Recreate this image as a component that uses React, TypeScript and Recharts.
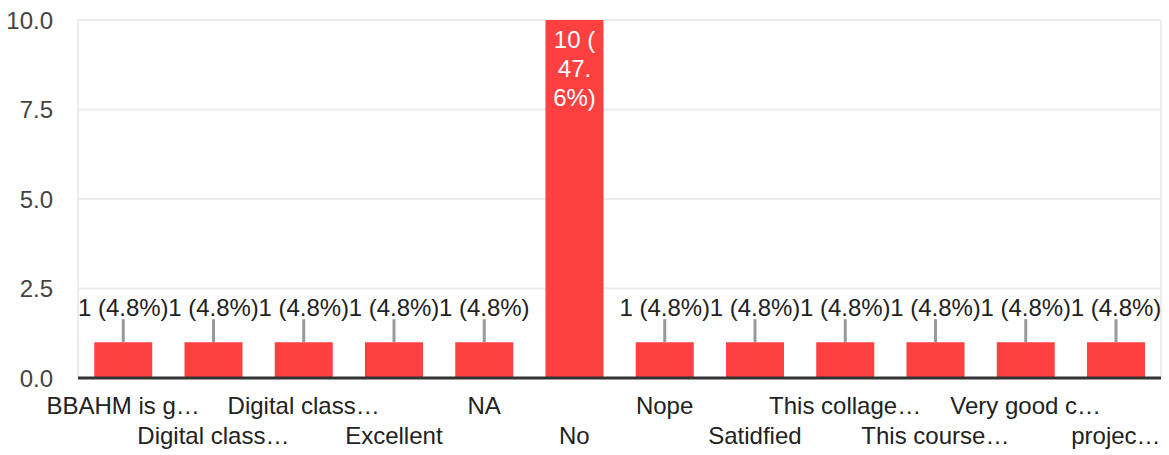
import { BarChart, Bar, XAxis, YAxis, CartesianGrid, LabelList } from 'recharts'

const categories = [
  'BBAHM is g…',
  'Digital class…',
  'Digital class…',
  'Excellent',
  'NA',
  'No',
  'Nope',
  'Satidfied',
  'This collage…',
  'This course…',
  'Very good c…',
  'projec…',
]
const counts = [1, 1, 1, 1, 1, 10, 1, 1, 1, 1, 1, 1]
const yTicks = [0, 2.5, 5, 7.5, 10]

const total = counts.reduce((a, b) => a + b, 0)
const data = categories.map((name, i) => ({ name, count: counts[i] }))

const FONT = '"Liberation Sans", Arial, sans-serif'
const RED = '#FF4040'
const FS = 24

const pctText = (v: number) => `${v} (${((v / total) * 100).toFixed(1)}%)`

function XTick(props: any) {
  const { x, y, payload, index } = props
  const dy = index % 2 === 0 ? 36 : 66
  return (
    <text x={x} y={y + dy} textAnchor="middle" fill="#222" fontSize={FS} fontFamily={FONT}>
      {payload.value}
    </text>
  )
}

function BarLabel(props: any) {
  const { x, y, width, height, value } = props
  const cx = x + width / 2
  if (height > 120) {
    // tall bar: label wrapped inside in white
    const txt = pctText(value)
    const lines = [txt.slice(0, 4), txt.slice(4, 7), txt.slice(7)]
    return (
      <g>
        {lines.map((l, i) => (
          <text key={i} x={cx} y={y + 28 + i * 29} textAnchor="middle" fill="#fff" fontSize={FS} fontFamily={FONT}>
            {l}
          </text>
        ))}
      </g>
    )
  }
  return (
    <g>
      <line x1={cx} x2={cx} y1={y - 23} y2={y} stroke="#999" strokeWidth={3} />
      <text x={cx} y={y - 26} textAnchor="middle" fill="#222" fontSize={FS} fontFamily={FONT}>
        {pctText(value)}
      </text>
    </g>
  )
}

export default function App() {
  return (
    <div style={{ position: 'absolute', left: 0, top: 0, background: '#fff' }}>
      <BarChart
        width={1169}
        height={455}
        data={data}
        margin={{ top: 20, right: 8, left: 0, bottom: 0 }}
        barCategoryGap="18%"
      >
        <CartesianGrid
          stroke="#ececec"
          strokeWidth={2}
          verticalCoordinatesGenerator={({ offset }: any) => [offset.left, offset.left + offset.width]}
        />
        <XAxis
          dataKey="name"
          interval={0}
          height={77}
          tickLine={false}
          tickSize={0}
          tickMargin={0}
          axisLine={{ stroke: '#333', strokeWidth: 3 }}
          tick={<XTick />}
        />
        <YAxis
          width={78}
          domain={[0, 10]}
          ticks={yTicks}
          tickFormatter={(v: number) => v.toFixed(1)}
          axisLine={false}
          tickLine={false}
          tickSize={0}
          tickMargin={25}
          tick={{ fill: '#444', fontSize: FS, fontFamily: FONT }}
        />
        <Bar dataKey="count" fill={RED} isAnimationActive={false}>
          <LabelList dataKey="count" content={<BarLabel />} />
        </Bar>
      </BarChart>
    </div>
  )
}
